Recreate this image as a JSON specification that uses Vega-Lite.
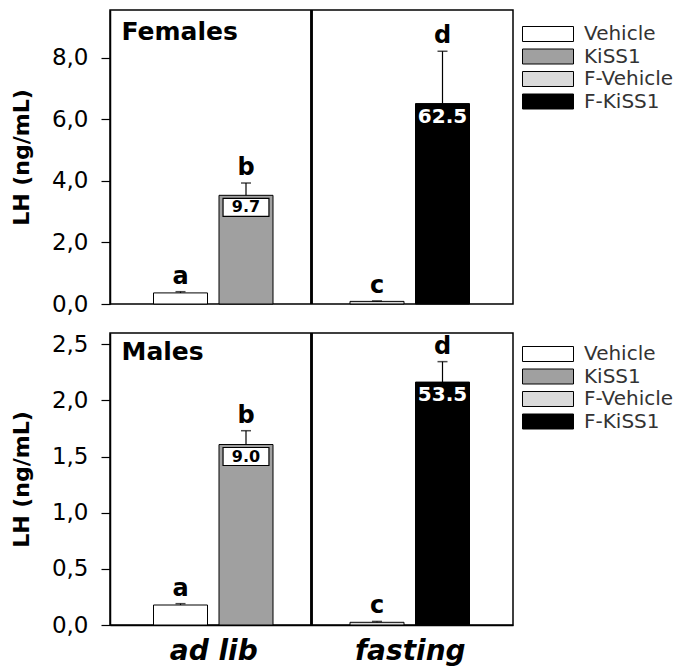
{
  "$schema": "https://vega.github.io/schema/vega-lite/v6.json",
  "padding": {"left": 9, "top": 8, "right": 0, "bottom": 0},
  "background": "white",
  "config": {
    "font": "DejaVu Sans",
    "view": {"stroke": "black", "strokeWidth": 1.5},
    "axis": {"grid": false, "domainColor": "black", "tickColor": "black", "labelColor": "black", "titleColor": "black", "domainWidth": 1.5, "tickWidth": 1.2},
    "legend": {"labelFont": "DejaVu Sans", "labelFontSize": 20, "labelColor": "#333"}
  },
  "datasets": {
    "lh": [
      {"panel": "Females", "group": "Vehicle", "pos": 1, "lh": 0.36, "hi": 0.40, "letter": "a", "fold": null},
      {"panel": "Females", "group": "KiSS1", "pos": 2, "lh": 3.53, "hi": 3.93, "letter": "b", "fold": "9.7"},
      {"panel": "Females", "group": "F-Vehicle", "pos": 4, "lh": 0.085, "hi": 0.10, "letter": "c", "fold": null},
      {"panel": "Females", "group": "F-KiSS1", "pos": 5, "lh": 6.51, "hi": 8.21, "letter": "d", "fold": "62.5"},
      {"panel": "Males", "group": "Vehicle", "pos": 1, "lh": 0.178, "hi": 0.19, "letter": "a", "fold": null},
      {"panel": "Males", "group": "KiSS1", "pos": 2, "lh": 1.607, "hi": 1.73, "letter": "b", "fold": "9.0"},
      {"panel": "Males", "group": "F-Vehicle", "pos": 4, "lh": 0.024, "hi": 0.032, "letter": "c", "fold": null},
      {"panel": "Males", "group": "F-KiSS1", "pos": 5, "lh": 2.163, "hi": 2.345, "letter": "d", "fold": "53.5"}
    ]
  },
  "data": {"name": "lh"},
  "spacing": 14,
  "resolve": {"legend": {"fill": "independent"}},
  "vconcat": [
    {
      "width": 403,
      "height": 294,
      "transform": [{"filter": "datum.panel === 'Females'"}],
      "encoding": {
        "x": {"field": "pos", "type": "quantitative", "scale": {"domain": [0, 6], "nice": false}, "axis": null}
      },
      "layer": [
        {"mark": {"type": "rule", "color": "black", "strokeWidth": 2}, "encoding": {"x": {"datum": 3}}},
        {
          "mark": {"type": "bar", "width": 54, "stroke": "black", "strokeWidth": 1},
          "encoding": {
            "y": {"field": "lh", "type": "quantitative", "title": "LH (ng/mL)", "scale": {"domain": [0, 9.55], "nice": false},
              "axis": {"values": [0, 1, 2, 3, 4, 5, 6, 7, 8, 9], "labelExpr": "datum.value % 2 === 0 ? replace(format(datum.value, '.1f'), '.', ',') : ''", "tickSize": 9, "labelPadding": 13, "labelFontSize": 23, "labelOverlap": false, "labelFlush": false, "titleFontSize": 22, "titleFontWeight": "bold", "titlePadding": 18}},
            "fill": {"field": "group", "type": "nominal",
              "scale": {"domain": ["Vehicle", "KiSS1", "F-Vehicle", "F-KiSS1"], "range": ["white", "#a0a0a0", "#dadada", "black"]},
              "legend": {"title": null, "orient": "none", "legendX": 428, "legendY": 14, "symbolType": "M-3.4,-1H3.4V1H-3.4Z", "symbolSize": 225, "symbolStrokeColor": "black", "symbolStrokeWidth": 1, "labelOffset": 26, "rowPadding": 2.5}}
          }
        },
        {"mark": {"type": "rule", "color": "black", "strokeWidth": 1.2}, "encoding": {"y": {"field": "lh", "type": "quantitative", "title": "LH (ng/mL)"}, "y2": {"field": "hi"}}},
        {"mark": {"type": "tick", "orient": "horizontal", "size": 10, "thickness": 1.5, "color": "black"}, "encoding": {"y": {"field": "hi", "type": "quantitative", "title": "LH (ng/mL)"}}},
        {"mark": {"type": "text", "fontSize": 24, "fontWeight": "bold", "baseline": "alphabetic", "dy": -8, "color": "black"}, "encoding": {"y": {"field": "hi", "type": "quantitative", "title": "LH (ng/mL)"}, "text": {"field": "letter"}}},
        {"transform": [{"filter": "datum.group === 'KiSS1'"}], "mark": {"type": "point", "shape": "M-2.55,-1H2.55V1H-2.55Z", "size": 324, "filled": true, "fill": "white", "stroke": "black", "strokeWidth": 1.2, "opacity": 1, "yOffset": 12}, "encoding": {"y": {"field": "lh", "type": "quantitative", "title": "LH (ng/mL)"}}},
        {"transform": [{"filter": "datum.group === 'KiSS1'"}], "mark": {"type": "text", "fontSize": 16, "fontWeight": "bold", "baseline": "middle", "color": "black", "yOffset": 12}, "encoding": {"y": {"field": "lh", "type": "quantitative", "title": "LH (ng/mL)"}, "text": {"field": "fold"}}},
        {"transform": [{"filter": "datum.group === 'F-KiSS1'"}], "mark": {"type": "text", "fontSize": 20, "fontWeight": "bold", "baseline": "middle", "color": "white", "yOffset": 13}, "encoding": {"y": {"field": "lh", "type": "quantitative", "title": "LH (ng/mL)"}, "text": {"field": "fold"}}},
        {"transform": [{"filter": "datum.group === 'Vehicle'"}], "mark": {"type": "text", "fontSize": 25, "fontWeight": "bold", "align": "left", "baseline": "middle", "color": "black"}, "encoding": {"x": {"datum": 0.1}, "y": {"datum": 8.82}, "text": {"field": "panel"}}}
      ]
    },
    {
      "width": 403,
      "height": 292,
      "transform": [{"filter": "datum.panel === 'Males'"}],
      "encoding": {
        "x": {"field": "pos", "type": "quantitative", "scale": {"domain": [0, 6], "nice": false}, "axis": {"values": [1.5, 4.5], "labelExpr": "datum.value < 3 ? 'ad lib' : 'fasting'", "ticks": false, "title": null, "domain": true, "labelFontSize": 28, "labelFontWeight": "bold", "labelFontStyle": "italic", "labelPadding": 12, "labelFlush": false}}
      },
      "layer": [
        {"mark": {"type": "rule", "color": "black", "strokeWidth": 2}, "encoding": {"x": {"datum": 3}}},
        {
          "mark": {"type": "bar", "width": 54, "stroke": "black", "strokeWidth": 1},
          "encoding": {
            "y": {"field": "lh", "type": "quantitative", "title": "LH (ng/mL)", "scale": {"domain": [0, 2.6], "nice": false},
              "axis": {"values": [0, 0.25, 0.5, 0.75, 1, 1.25, 1.5, 1.75, 2, 2.25, 2.5], "labelExpr": "round(datum.value * 4) % 2 === 0 ? replace(format(datum.value, '.1f'), '.', ',') : ''", "tickSize": 9, "labelPadding": 13, "labelFontSize": 23, "labelOverlap": false, "labelFlush": false, "titleFontSize": 22, "titleFontWeight": "bold", "titlePadding": 18}},
            "fill": {"field": "group", "type": "nominal",
              "scale": {"domain": ["Vehicle", "KiSS1", "F-Vehicle", "F-KiSS1"], "range": ["white", "#a0a0a0", "#dadada", "black"]},
              "legend": {"title": null, "orient": "none", "legendX": 428, "legendY": 11, "symbolType": "M-3.4,-1H3.4V1H-3.4Z", "symbolSize": 225, "symbolStrokeColor": "black", "symbolStrokeWidth": 1, "labelOffset": 26, "rowPadding": 2.5}}
          }
        },
        {"mark": {"type": "rule", "color": "black", "strokeWidth": 1.2}, "encoding": {"y": {"field": "lh", "type": "quantitative", "title": "LH (ng/mL)"}, "y2": {"field": "hi"}}},
        {"mark": {"type": "tick", "orient": "horizontal", "size": 10, "thickness": 1.5, "color": "black"}, "encoding": {"y": {"field": "hi", "type": "quantitative", "title": "LH (ng/mL)"}}},
        {"mark": {"type": "text", "fontSize": 24, "fontWeight": "bold", "baseline": "alphabetic", "dy": -8, "color": "black"}, "encoding": {"y": {"field": "hi", "type": "quantitative", "title": "LH (ng/mL)"}, "text": {"field": "letter"}}},
        {"transform": [{"filter": "datum.group === 'KiSS1'"}], "mark": {"type": "point", "shape": "M-2.55,-1H2.55V1H-2.55Z", "size": 324, "filled": true, "fill": "white", "stroke": "black", "strokeWidth": 1.2, "opacity": 1, "yOffset": 12}, "encoding": {"y": {"field": "lh", "type": "quantitative", "title": "LH (ng/mL)"}}},
        {"transform": [{"filter": "datum.group === 'KiSS1'"}], "mark": {"type": "text", "fontSize": 16, "fontWeight": "bold", "baseline": "middle", "color": "black", "yOffset": 12}, "encoding": {"y": {"field": "lh", "type": "quantitative", "title": "LH (ng/mL)"}, "text": {"field": "fold"}}},
        {"transform": [{"filter": "datum.group === 'F-KiSS1'"}], "mark": {"type": "text", "fontSize": 20, "fontWeight": "bold", "baseline": "middle", "color": "white", "yOffset": 13}, "encoding": {"y": {"field": "lh", "type": "quantitative", "title": "LH (ng/mL)"}, "text": {"field": "fold"}}},
        {"transform": [{"filter": "datum.group === 'Vehicle'"}], "mark": {"type": "text", "fontSize": 25, "fontWeight": "bold", "align": "left", "baseline": "middle", "color": "black"}, "encoding": {"x": {"datum": 0.1}, "y": {"datum": 2.43}, "text": {"field": "panel"}}}
      ]
    }
  ]
}
